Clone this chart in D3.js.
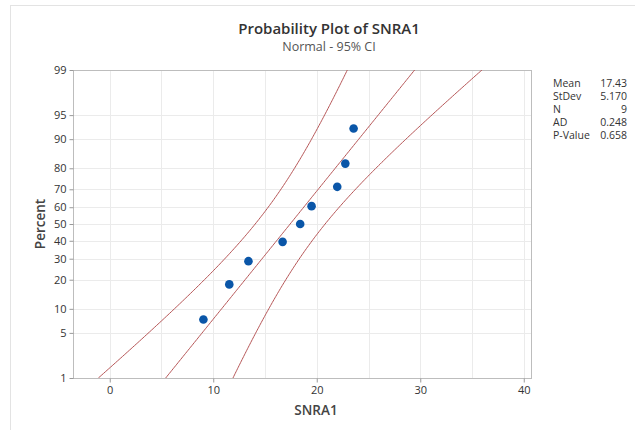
<!DOCTYPE html>
<html>
<head>
<meta charset="utf-8">
<script src="https://cdn.jsdelivr.net/npm/d3@7"></script>
<style>
  body { margin: 0; background: #fff; }
  text { font-family: "Open Sans", "Noto Sans", sans-serif; fill: #333; }
</style>
</head>
<body>
<div id="chart"></div>
<script>
// data
const snra1 = [9.05, 11.55, 13.40, 16.70, 18.40, 19.50, 21.98, 22.76, 23.56];
const percentTicks = [1, 5, 10, 20, 30, 40, 50, 60, 70, 80, 90, 95, 99];
const xTicks = [0, 10, 20, 30, 40];
const xGrid = [0, 5, 10, 15, 20, 25, 30, 35, 40];
const statLabels = ["Mean", "StDev", "N", "AD", "P-Value"];
const statValues = ["17.43", "5.170", "9", "0.248", "0.658"];
const fitMean = 17.43;
const fitSd = 5.170;

var width = 635, height = 430;
var plotLeft = 73, plotRight = 531, plotTop = 70, plotBottom = 378;

// inverse normal cdf (Acklam)
function probit(p) {
  var a = [-39.69683028665376, 220.9460984245205, -275.9285104469687, 138.3577518672690, -30.66479806614716, 2.506628277459239];
  var b = [-54.47609879822406, 161.5858368580409, -155.6989798598866, 66.80131188771972, -13.28068155288572];
  var c = [-0.007784894002430293, -0.3223964580411365, -2.400758277161838, -2.549732539343734, 4.374664141464968, 2.938163982698783];
  var d = [0.007784695709041462, 0.3224671290700398, 2.445134137142996, 3.754408661907416];
  var q, r;
  if (p < 0.02425) {
    q = Math.sqrt(-2 * Math.log(p));
    return (((((c[0]*q+c[1])*q+c[2])*q+c[3])*q+c[4])*q+c[5]) / ((((d[0]*q+d[1])*q+d[2])*q+d[3])*q+1);
  } else if (p > 1 - 0.02425) {
    q = Math.sqrt(-2 * Math.log(1 - p));
    return -(((((c[0]*q+c[1])*q+c[2])*q+c[3])*q+c[4])*q+c[5]) / ((((d[0]*q+d[1])*q+d[2])*q+d[3])*q+1);
  }
  q = p - 0.5; r = q * q;
  return (((((a[0]*r+a[1])*r+a[2])*r+a[3])*r+a[4])*r+a[5])*q / (((((b[0]*r+b[1])*r+b[2])*r+b[3])*r+b[4])*r+1);
}

var svg = d3.select("#chart").append("svg")
  .attr("width", width).attr("height", height);

// outer light frame
svg.append("rect").attr("x", 10.5).attr("y", 5.5).attr("width", 640).attr("height", 440)
  .attr("fill", "none").attr("stroke", "#e3e3e3");

var zMax = probit(0.99);
var x = d3.scaleLinear().domain([-3.55, 40.7]).range([plotLeft, plotRight]);
var y = d3.scaleLinear().domain([-zMax, zMax]).range([plotBottom, plotTop]);

// grid
svg.append("g").selectAll("line").data(percentTicks.slice(1, -1)).enter().append("line")
  .attr("x1", plotLeft).attr("x2", plotRight)
  .attr("y1", d => Math.round(y(probit(d / 100))) + 0.5)
  .attr("y2", d => Math.round(y(probit(d / 100))) + 0.5)
  .attr("stroke", "#ebebeb");
svg.append("g").selectAll("line").data(xGrid).enter().append("line")
  .attr("y1", plotTop).attr("y2", plotBottom)
  .attr("x1", d => Math.round(x(d)) + 0.5).attr("x2", d => Math.round(x(d)) + 0.5)
  .attr("stroke", "#ebebeb");

// frame
svg.append("rect").attr("x", plotLeft + 0.5).attr("y", plotTop + 0.5)
  .attr("width", plotRight - plotLeft).attr("height", plotBottom - plotTop)
  .attr("fill", "none").attr("stroke", "#bdbdbd");

// axes
var xAxis = d3.axisBottom(x).tickValues(xTicks).tickSize(4).tickPadding(4);
var gx = svg.append("g").attr("transform", "translate(0," + (plotBottom + 0.5) + ")").call(xAxis);
var yAxis = d3.axisLeft(y).tickValues(percentTicks.map(p => probit(p / 100)))
  .tickFormat((d, i) => percentTicks[i]).tickSize(4).tickPadding(3);
var gy = svg.append("g").attr("transform", "translate(" + (plotLeft + 0.5) + ",0)").call(yAxis);
[gx, gy].forEach(function (g) {
  g.select(".domain").remove();
  g.selectAll(".tick line").attr("stroke", "#999");
  g.selectAll(".tick text").style("font-size", "11px").attr("fill", "#333")
    .style("font-family", "'Open Sans', 'Noto Sans', sans-serif");
});

// clip for curves
svg.append("clipPath").attr("id", "plotclip").append("rect")
  .attr("x", plotLeft).attr("y", plotTop).attr("width", plotRight - plotLeft).attr("height", plotBottom - plotTop);

// fitted line and 95% CI
var n = snra1.length;
var zs = d3.range(0, 201).map(i => -zMax + i * (2 * zMax / 200));
function band(sign) {
  return zs.map(function (z) {
    var se = Math.sqrt(fitSd * fitSd / n + z * z * fitSd * fitSd / (2 * n));
    return [fitMean + z * fitSd + sign * 1.96 * se, z];
  });
}
var line = d3.line().x(d => x(d[0])).y(d => y(d[1]));
var curves = svg.append("g").attr("clip-path", "url(#plotclip)");
[-1, 0, 1].forEach(function (s) {
  curves.append("path").datum(band(s)).attr("d", line)
    .attr("fill", "none").attr("stroke", "#b65556").attr("stroke-width", 1);
});

// points (median ranks)
svg.append("g").selectAll("circle").data(snra1).enter().append("circle")
  .attr("cx", d => x(d))
  .attr("cy", (d, i) => y(probit((i + 1 - 0.3) / (n + 0.4))))
  .attr("r", 4.3)
  .attr("fill", "#0a56a8");

// titles
svg.append("text").attr("x", 329).attr("y", 34).attr("text-anchor", "middle")
  .style("font-size", "15px").style("font-weight", "600").text("Probability Plot of SNRA1");
svg.append("text").attr("x", 329).attr("y", 51).attr("text-anchor", "middle")
  .style("font-size", "12.5px").style("fill", "#555").text("Normal - 95% CI");
svg.append("text").attr("x", 316).attr("y", 415).attr("text-anchor", "middle")
  .style("font-size", "13.5px").style("font-weight", "600").style("fill", "#444").text("SNRA1");
svg.append("text").attr("transform", "translate(45,224) rotate(-90)").attr("text-anchor", "middle")
  .style("font-size", "13.5px").style("font-weight", "600").style("fill", "#444").text("Percent");

// stats box
var stats = svg.append("g");
statLabels.forEach(function (lab, i) {
  stats.append("text").attr("x", 553).attr("y", 87 + i * 13)
    .style("font-size", "10.5px").text(lab);
  stats.append("text").attr("x", 627).attr("y", 87 + i * 13).attr("text-anchor", "end")
    .style("font-size", "10.5px").text(statValues[i]);
});
</script>
</body>
</html>
